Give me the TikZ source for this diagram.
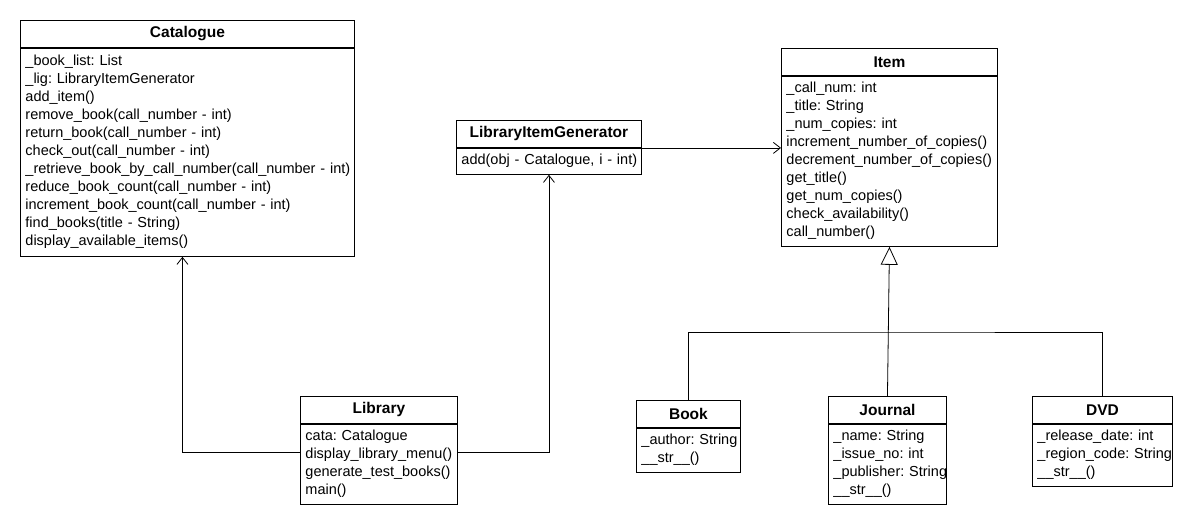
\documentclass[tikz,border=0pt]{standalone}
\usepackage{fontspec}
\setmainfont{Liberation Sans}
\usetikzlibrary{arrows.meta,calc}
\frenchspacing
\newcommand\ML[1]{\rule[-5.5pt]{0pt}{18pt}\mbox{#1}}
\tikzset{
  hdr/.style={draw,line width=0.9pt,anchor=north west,minimum height=27pt,inner sep=0pt,
    font=\fontsize{15.5}{18}\selectfont\bfseries,align=center},
  bdy/.style={draw,line width=0.9pt,anchor=north west,inner xsep=5pt,inner ysep=4pt,
    align=left,font=\fontsize{14.5}{18}\selectfont},
  assoc/.style={draw,line width=0.8pt,-{Straight Barb[length=7pt,width=11pt,line width=0.8pt]}},
  inh/.style={draw,line width=0.8pt,-{Triangle[open,length=18pt,width=17pt,line width=0.8pt,fill=white]}},
  plain/.style={draw,line width=0.8pt},
}
\begin{document}
\begin{tikzpicture}[x=1pt,y=-1pt]
\useasboundingbox[fill=white] (0,0) rectangle (1193,525);
% Catalogue
\node[hdr,minimum width=334pt] (cath) at (20,20) {Catalogue};
\node[bdy,text width=324pt,minimum height=208pt] (catb) at (cath.south west) {%
\ML{\_book\_list: List}\\
\ML{\_lig: LibraryItemGenerator}\\
\ML{add\_item()}\\
\ML{remove\_book(call\_number - int)}\\
\ML{return\_book(call\_number - int)}\\
\ML{check\_out(call\_number - int)}\\
\ML{\_retrieve\_book\_by\_call\_number(call\_number - int)}\\
\ML{reduce\_book\_count(call\_number - int)}\\
\ML{increment\_book\_count(call\_number - int)}\\
\ML{find\_books(title - String)}\\
\ML{display\_available\_items()}};
% LibraryItemGenerator
\node[hdr,minimum width=185pt] (ligh) at (456,120) {LibraryItemGenerator};
\node[bdy,text width=175pt] (ligb) at (ligh.south west) {%
\ML{add(obj - Catalogue, i - int)}};
% Item
\node[hdr,minimum width=216pt] (itemh) at (781,48) {Item};
\node[bdy,text width=206pt] (itemb) at (itemh.south west) {%
\ML{\_call\_num: int}\\
\ML{\_title: String}\\
\ML{\_num\_copies: int}\\
\ML{increment\_number\_of\_copies()}\\
\ML{decrement\_number\_of\_copies()}\\
\ML{get\_title()}\\
\ML{get\_num\_copies()}\\
\ML{check\_availability()}\\
\ML{call\_number()}};
% Library
\node[hdr,minimum width=157pt] (libh) at (300,396) {Library};
\node[bdy,text width=147pt] (libb) at (libh.south west) {%
\ML{cata: Catalogue}\\
\ML{display\_library\_menu()}\\
\ML{generate\_test\_books()}\\
\ML{main()}};
% Book
\node[hdr,minimum width=104pt] (bookh) at (636,400) {Book};
\node[bdy,text width=94pt] (bookb) at (bookh.south west) {%
\ML{\_author: String}\\
\ML{\_\_str\_\_()}};
% Journal
\node[hdr,minimum width=118pt] (jrnh) at (828,396) {Journal};
\node[bdy,text width=108pt] (jrnb) at (jrnh.south west) {%
\ML{\_name: String}\\
\ML{\_issue\_no: int}\\
\ML{\_publisher: String}\\
\ML{\_\_str\_\_()}};
% DVD
\node[hdr,minimum width=140pt] (dvdh) at (1032,396) {DVD};
\node[bdy,text width=130pt] (dvdb) at (dvdh.south west) {%
\ML{\_release\_date: int}\\
\ML{\_region\_code: String}\\
\ML{\_\_str\_\_()}};
% connectors
\coordinate (libL) at ($(libb.north west)+(0,28)$);
\coordinate (libR) at ($(libb.north east)+(0,28)$);
\draw[assoc] (libL) -| ([xshift=-5pt]catb.south);
\draw[assoc] (libR) -| (ligb.south);
\draw[assoc] (ligh.south east) -- (ligh.south east -| itemb.west);
\coordinate (bus) at (itemb.south |- 0,332);
\draw[inh] (jrnh.north) -- (itemb.south);
\draw[plain] (bookh.north) |- (bus) -| (dvdh.north);
\end{tikzpicture}
\end{document}
